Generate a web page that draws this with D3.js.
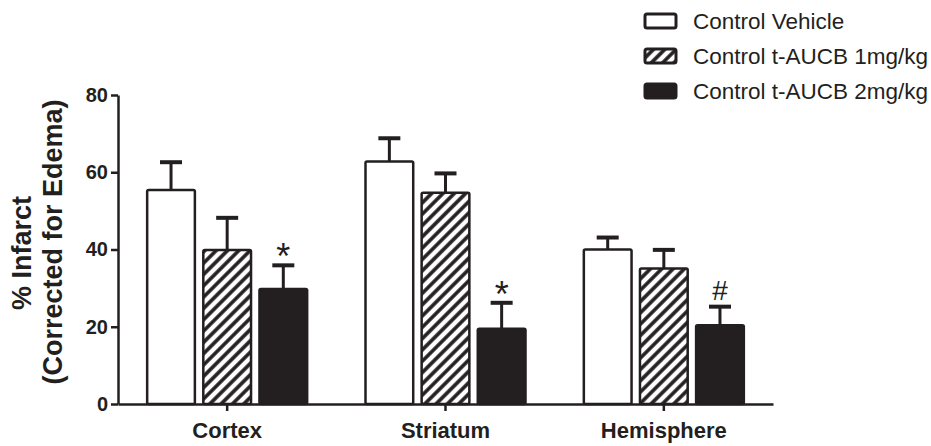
<!DOCTYPE html>
<html>
<head>
<meta charset="utf-8">
<script src="https://cdn.jsdelivr.net/npm/d3@7"></script>
<style>
  body { margin: 0; background: #fff; }
  text { font-family: "Liberation Sans", Arial, sans-serif; fill: #231f20; }
</style>
</head>
<body>
<div id="vis"></div>
<script>
const width = 931;
const height = 446;
const ink = '#231f20';

// data
const categories = ['Cortex', 'Striatum', 'Hemisphere'];
const seriesNames = ['Control Vehicle', 'Control t-AUCB 1mg/kg', 'Control t-AUCB 2mg/kg'];
const vehicleMean = [55.4, 62.8, 40.0];
const vehicleErr = [7.2, 6.0, 3.1];
const dose1Mean = [39.9, 54.7, 35.1];
const dose1Err = [8.3, 5.0, 4.8];
const dose2Mean = [29.8, 19.5, 20.4];
const dose2Err = [6.1, 6.7, 4.8];
const dose2Marks = ['*', '*', '#'];
const yTicks = [0, 20, 40, 60, 80];

const fills = ['#fff', 'url(#hatch)', ink];
const means = [vehicleMean, dose1Mean, dose2Mean];
const errs = [vehicleErr, dose1Err, dose2Err];

const rows = [];
categories.forEach((c, i) => {
  seriesNames.forEach((s, j) => {
    rows.push({ cat: c, series: s, idx: j, mean: means[j][i], err: errs[j][i] });
  });
});

const svg = d3.select('#vis').append('svg')
  .attr('width', width)
  .attr('height', height);

// diagonal hatching for the 1mg/kg bars
svg.append('defs').append('pattern')
  .attr('id', 'hatch')
  .attr('patternUnits', 'userSpaceOnUse')
  .attr('width', 8)
  .attr('height', 8)
  .attr('patternTransform', 'rotate(45)')
  .call(p => {
    p.append('rect').attr('width', 8).attr('height', 8).attr('fill', '#fff');
    p.append('line')
      .attr('x1', 2).attr('y1', 0).attr('x2', 2).attr('y2', 8)
      .attr('stroke', ink).attr('stroke-width', 3.6);
  });

const y = d3.scaleLinear()
  .domain([0, 80])
  .range([404, 95]);

const x0 = d3.scaleBand()
  .domain(categories)
  .range([118, 773]);

const x1 = d3.scaleBand()
  .domain(seriesNames)
  .range([-80, 80])
  .paddingInner(0.15);

function barX(d) {
  return x0(d.cat) + x0.bandwidth() / 2 + x1(d.series);
}

function drawBars() {
  const g = svg.append('g');
  // error bars first, so the bar outline sits on top
  g.selectAll('line.err')
    .data(rows)
    .enter().append('line')
    .attr('class', 'err')
    .attr('x1', d => barX(d) + x1.bandwidth() / 2)
    .attr('x2', d => barX(d) + x1.bandwidth() / 2)
    .attr('y1', d => y(d.mean))
    .attr('y2', d => y(d.mean + d.err))
    .attr('stroke', ink)
    .attr('stroke-width', 3);
  g.selectAll('line.cap')
    .data(rows)
    .enter().append('line')
    .attr('class', 'cap')
    .attr('x1', d => barX(d) + x1.bandwidth() / 2 - 11)
    .attr('x2', d => barX(d) + x1.bandwidth() / 2 + 11)
    .attr('y1', d => y(d.mean + d.err))
    .attr('y2', d => y(d.mean + d.err))
    .attr('stroke', ink)
    .attr('stroke-width', 4);
  g.selectAll('rect.bar')
    .data(rows)
    .enter().append('rect')
    .attr('class', 'bar')
    .attr('x', d => barX(d))
    .attr('y', d => y(d.mean))
    .attr('width', x1.bandwidth())
    .attr('height', d => y(0) - y(d.mean))
    .attr('rx', 1.5)
    .attr('fill', d => fills[d.idx])
    .attr('stroke', ink)
    .attr('stroke-width', 2.5);

  // significance marks above the 2mg/kg bars
  const marked = rows.filter(d => d.idx === 2);
  g.selectAll('text.mark')
    .data(marked)
    .enter().append('text')
    .attr('class', 'mark')
    .attr('x', d => barX(d) + x1.bandwidth() / 2)
    .attr('y', (d, i) => y(d.mean + d.err) + (dose2Marks[i] === '*' ? 4 : -7))
    .attr('text-anchor', 'middle')
    .style('font-size', (d, i) => dose2Marks[i] === '*' ? '36px' : '28px')
    .text((d, i) => dose2Marks[i]);
}

function drawAxes() {
  const yAxis = svg.append('g')
    .attr('transform', 'translate(118,0)')
    .call(d3.axisLeft(y).tickValues(yTicks).tickSize(7).tickSizeOuter(0).tickPadding(3));
  yAxis.selectAll('text')
    .style('font-size', '20px')
    .style('font-weight', 'bold')
    .attr('fill', ink);

  const xAxis = svg.append('g')
    .attr('transform', 'translate(0,404)')
    .call(d3.axisBottom(x0).tickSize(7).tickSizeOuter(0).tickPadding(11));
  xAxis.selectAll('text')
    .style('font-size', '22px')
    .style('font-weight', 'bold')
    .attr('fill', ink);

  svg.selectAll('.domain, .tick line')
    .attr('stroke', ink)
    .attr('stroke-width', 2.5);

  svg.append('text')
    .attr('transform', 'translate(31,253) rotate(-90)')
    .attr('text-anchor', 'middle')
    .style('font-size', '27px')
    .style('font-weight', 'bold')
    .text('% Infarct');
  svg.append('text')
    .attr('transform', 'translate(62,242) rotate(-90)')
    .attr('text-anchor', 'middle')
    .style('font-size', '27px')
    .style('font-weight', 'bold')
    .text('(Corrected for Edema)');
}

function drawLegend() {
  const item = svg.append('g').selectAll('g')
    .data(seriesNames)
    .enter().append('g')
    .attr('transform', (d, i) => `translate(644,${21 + i * 35})`);
  item.append('rect')
    .attr('x', 1)
    .attr('y', -7)
    .attr('width', 31)
    .attr('height', 14)
    .attr('rx', 2)
    .attr('fill', (d, i) => fills[i])
    .attr('stroke', ink)
    .attr('stroke-width', 3);
  item.append('text')
    .attr('x', 49)
    .attr('dy', '0.36em')
    .style('font-size', '22.5px')
    .text(d => d);
}

drawBars();
drawAxes();
drawLegend();
</script>
</body>
</html>
